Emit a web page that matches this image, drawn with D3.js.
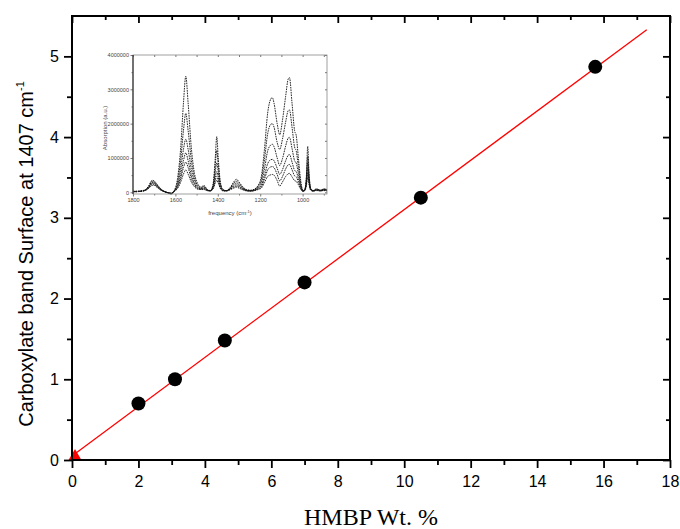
<!DOCTYPE html>
<html lang="en">
<head>
  <meta charset="UTF-8">
  <title>Carboxylate band vs HMBP</title>
  <script src="https://d3js.org/d3.v7.min.js"></script>
  <style>
    body { margin: 0; background: #fff; }
    .tick text { font-family: "Liberation Sans", Arial, sans-serif; }
  </style>
</head>
<body>
  <script>
    // main chart data
    const wtPct = [2.0, 3.1, 4.6, 7.0, 10.5, 15.75];
    const surface = [0.70, 1.00, 1.48, 2.20, 3.25, 4.87];
    const fitX = [0, 17.3];
    const fitY = [0.05, 5.33];
    const xTicks = [0, 2, 4, 6, 8, 10, 12, 14, 16, 18];
    const yTicks = [0, 1, 2, 3, 4, 5];

    // inset spectra (absorption in units of 10^6)
    const freq = [1800,1780,1760,1740,1725,1710,1700,1690,1680,1665,1650,1635,1620,1605,1590,1575,1562,1551,1540,1525,1510,1495,1480,1465,1450,1435,1422,1412,1405,1398,1388,1375,1360,1340,1325,1312,1300,1285,1265,1245,1225,1210,1195,1180,1165,1150,1143,1135,1120,1108,1095,1080,1068,1062,1050,1038,1030,1020,1008,998,990,982,976,970,962,950,935,915,900,885];
    const specA = [0.03,0.02,0.04,0.08,0.2,0.35,0.33,0.26,0.18,0.08,0.02,-0.02,-0.05,0.05,0.4,1.3,2.6,3.38,2.6,1.3,0.55,0.25,0.15,0.2,0.08,0.05,0.25,1.0,1.62,1.0,0.3,0.07,0.05,0.15,0.3,0.38,0.3,0.18,0.08,0.06,0.1,0.2,0.45,1.25,2.3,2.72,2.76,2.6,2.0,1.68,2.1,2.8,3.3,3.34,2.6,1.8,1.65,1.0,0.3,0.05,0.08,0.5,1.34,0.6,0.12,0.05,0.1,0.06,0.1,0.08];
    const specB = [0.03,0.03,0.04,0.08,0.18,0.32,0.3,0.24,0.16,0.07,0.02,-0.02,-0.04,0.05,0.3,0.95,1.8,2.3,1.8,0.95,0.42,0.2,0.13,0.17,0.07,0.05,0.2,0.8,1.22,0.8,0.25,0.07,0.05,0.13,0.26,0.32,0.26,0.15,0.07,0.05,0.09,0.17,0.36,0.95,1.7,1.98,2.0,1.9,1.45,1.25,1.55,2.05,2.38,2.4,1.9,1.32,1.2,0.75,0.22,0.04,0.07,0.42,1.05,0.5,0.1,0.05,0.09,0.06,0.09,0.07];
    const specC = [0.02,0.03,0.04,0.07,0.16,0.29,0.28,0.22,0.15,0.07,0.02,-0.01,-0.04,0.04,0.22,0.68,1.25,1.55,1.25,0.68,0.32,0.16,0.11,0.14,0.06,0.05,0.17,0.6,0.86,0.6,0.2,0.06,0.05,0.11,0.22,0.27,0.22,0.13,0.06,0.05,0.08,0.14,0.27,0.68,1.2,1.38,1.4,1.33,1.0,0.78,0.98,1.35,1.58,1.6,1.28,0.92,0.85,0.55,0.17,0.04,0.07,0.36,0.86,0.42,0.09,0.04,0.08,0.05,0.08,0.06];
    const specD = [0.02,0.02,0.03,0.07,0.15,0.27,0.26,0.2,0.14,0.06,0.02,-0.01,-0.03,0.04,0.17,0.5,0.92,1.15,0.92,0.5,0.25,0.13,0.1,0.12,0.06,0.04,0.14,0.44,0.6,0.44,0.16,0.05,0.04,0.1,0.18,0.22,0.18,0.11,0.05,0.04,0.07,0.12,0.2,0.48,0.83,0.95,0.96,0.92,0.7,0.52,0.66,0.92,1.08,1.1,0.88,0.64,0.6,0.4,0.13,0.03,0.06,0.3,0.7,0.35,0.08,0.04,0.07,0.05,0.07,0.06];
    const specE = [0.02,0.02,0.03,0.06,0.13,0.24,0.23,0.18,0.12,0.05,0.01,-0.01,-0.03,0.03,0.14,0.4,0.72,0.88,0.72,0.4,0.2,0.11,0.09,0.1,0.05,0.04,0.12,0.35,0.46,0.35,0.13,0.05,0.04,0.09,0.15,0.18,0.15,0.1,0.05,0.04,0.06,0.1,0.16,0.38,0.65,0.74,0.75,0.72,0.52,0.33,0.46,0.68,0.8,0.81,0.66,0.48,0.45,0.3,0.1,0.03,0.05,0.25,0.56,0.29,0.07,0.04,0.06,0.04,0.06,0.05];
    const specF = [0.01,0.02,0.03,0.06,0.12,0.2,0.2,0.16,0.11,0.05,0.01,-0.01,-0.02,0.03,0.11,0.3,0.53,0.65,0.53,0.3,0.16,0.09,0.08,0.08,0.05,0.04,0.1,0.27,0.35,0.27,0.11,0.04,0.04,0.08,0.12,0.15,0.12,0.08,0.04,0.03,0.05,0.08,0.12,0.28,0.46,0.51,0.52,0.5,0.34,0.18,0.3,0.46,0.54,0.55,0.45,0.34,0.32,0.22,0.08,0.02,0.05,0.2,0.45,0.24,0.06,0.03,0.05,0.04,0.05,0.04];
    const inXTicks = [1800, 1600, 1400, 1200, 1000];
    const inYTicks = [0, 1, 2, 3, 4];

    const width = 680;
    const height = 529;
    const margin = {top: 16, right: 10, bottom: 69, left: 72};
    const w = width - margin.left - margin.right;
    const h = height - margin.top - margin.bottom;

    const svg = d3.select("body").append("svg")
      .attr("width", width).attr("height", height);
    const g = svg.append("g")
      .attr("transform", `translate(${margin.left},${margin.top})`);

    const x = d3.scaleLinear().domain([0, 18]).range([0, w]);
    const y = d3.scaleLinear().domain([0, 5.5]).range([h, 0]);

    // fit line + origin marker
    g.append("line")
      .attr("x1", x(fitX[0])).attr("y1", y(fitY[0]))
      .attr("x2", x(fitX[1])).attr("y2", y(fitY[1]))
      .attr("stroke", "#ff0000").attr("stroke-width", 1.3);

    g.append("path")
      .attr("d", d3.symbol().type(d3.symbolTriangle).size(85)())
      .attr("transform", `translate(${x(0) + 3},${y(0) - 3})`)
      .attr("fill", "#ff0000");

    g.selectAll(".pt")
      .data(wtPct)
      .enter().append("circle")
      .attr("class", "pt")
      .attr("cx", d => x(d))
      .attr("cy", (d, i) => y(surface[i]))
      .attr("r", 7)
      .attr("fill", "#000");

    // axes
    g.append("g").attr("transform", `translate(0,${h})`)
      .call(d3.axisBottom(x).tickValues(xTicks).tickSize(8).tickPadding(8).tickFormat(d3.format("d")));
    g.append("g").attr("transform", `translate(0,${h})`)
      .call(d3.axisBottom(x).tickValues(d3.range(1, 18, 2)).tickSize(5).tickFormat(""));
    g.append("g")
      .call(d3.axisLeft(y).tickValues(yTicks).tickSize(8).tickPadding(5).tickFormat(d3.format("d")));
    g.append("g")
      .call(d3.axisLeft(y).tickValues([0.5, 1.5, 2.5, 3.5, 4.5]).tickSize(5).tickFormat(""));
    // top and right ticks point inward
    g.append("g")
      .call(d3.axisBottom(x).tickValues(xTicks).tickSize(7).tickFormat(""));
    g.append("g")
      .call(d3.axisBottom(x).tickValues(d3.range(1, 18, 2)).tickSize(4).tickFormat(""));
    g.append("g").attr("transform", `translate(${w},0)`)
      .call(d3.axisLeft(y).tickValues(yTicks).tickSize(7).tickFormat(""));
    g.append("g").attr("transform", `translate(${w},0)`)
      .call(d3.axisLeft(y).tickValues([0.5, 1.5, 2.5, 3.5, 4.5]).tickSize(4).tickFormat(""));

    g.selectAll(".domain").remove();
    g.selectAll(".tick line").attr("stroke", "#000").attr("stroke-width", 1.8);
    g.selectAll(".tick text").attr("font-size", 16).attr("fill", "#000");

    g.append("rect")
      .attr("width", w).attr("height", h)
      .attr("fill", "none").attr("stroke", "#000").attr("stroke-width", 2);

    // axis titles
    svg.append("text")
      .attr("x", margin.left + w / 2).attr("y", 525)
      .attr("text-anchor", "middle")
      .style("font-family", '"Liberation Serif", "Times New Roman", serif')
      .style("font-size", "24px")
      .text("HMBP Wt. %");

    const yt = svg.append("text")
      .attr("transform", `translate(33,${margin.top + 238}) rotate(-90)`)
      .attr("text-anchor", "middle")
      .style("font-family", '"Liberation Sans", Arial, sans-serif')
      .style("font-size", "20px");
    yt.append("tspan").text("Carboxylate band Surface at 1407 cm");
    yt.append("tspan").attr("dy", -9).style("font-size", "11px").text("-1");

    // ---- inset ----
    const ix = d3.scaleLinear().domain([1800, 885]).range([133, 327]);
    const iy = d3.scaleLinear().domain([-0.05, 4.0]).range([194, 55]);
    const ins = svg.append("g");

    const line = d3.line()
      .x(d => ix(d[0]))
      .y(d => iy(d[1]))
      .curve(d3.curveMonotoneX);

    [specF, specE, specD, specC, specB, specA].forEach(s => {
      ins.append("path")
        .attr("d", line(d3.zip(freq, s)))
        .attr("fill", "none")
        .attr("stroke", "#111")
        .attr("stroke-width", 0.9)
        .attr("stroke-dasharray", "1.6,0.9");
    });

    const ig = ins.append("g");
    ig.append("g").attr("transform", "translate(0,194)")
      .call(d3.axisBottom(ix).tickValues(inXTicks).tickSize(2.5).tickPadding(2).tickFormat(d3.format("d")));
    ig.append("g").attr("transform", "translate(0,194)")
      .call(d3.axisBottom(ix).tickValues([1700, 1500, 1300, 1100, 900]).tickSize(1.5).tickFormat(""));
    ig.append("g").attr("transform", "translate(133,0)")
      .call(d3.axisLeft(iy).tickValues(inYTicks).tickSize(2.5).tickPadding(1.5).tickFormat(d => d3.format("d")(d * 1000000)));
    ig.append("g").attr("transform", "translate(133,0)")
      .call(d3.axisLeft(iy).tickValues([0.5, 1.5, 2.5, 3.5]).tickSize(1.5).tickFormat(""));
    ig.append("g").attr("transform", "translate(0,55)")
      .call(d3.axisBottom(ix).tickValues(inXTicks.concat([1700, 1500, 1300, 1100, 900])).tickSize(2).tickFormat(""));
    ig.append("g").attr("transform", "translate(327,0)")
      .call(d3.axisLeft(iy).tickValues(inYTicks.concat([0.5, 1.5, 2.5, 3.5])).tickSize(2).tickFormat(""));
    ig.selectAll(".domain").remove();
    ig.selectAll(".tick line").attr("stroke", "#555").attr("stroke-width", 0.8);
    ig.selectAll(".tick text").attr("font-size", 5.5).attr("fill", "#444");

    ins.append("rect")
      .attr("x", 133).attr("y", 55).attr("width", 194).attr("height", 139)
      .attr("fill", "none").attr("stroke", "#888").attr("stroke-width", 0.8);
    ins.append("line")
      .attr("x1", 133).attr("x2", 133).attr("y1", 55).attr("y2", 194)
      .attr("stroke", "#333").attr("stroke-width", 1.2);

    const il = ins.append("text")
      .attr("x", 230).attr("y", 215)
      .attr("text-anchor", "middle")
      .style("font-family", '"Liberation Sans", Arial, sans-serif')
      .style("font-size", "6px").attr("fill", "#444");
    il.append("tspan").text("frequency (cm");
    il.append("tspan").attr("dy", -2.5).style("font-size", "4px").text("-1");
    il.append("tspan").attr("dy", 2.5).text(")");

    ins.append("text")
      .attr("transform", "translate(107,128) rotate(-90)")
      .attr("text-anchor", "middle")
      .style("font-family", '"Liberation Sans", Arial, sans-serif')
      .style("font-size", "6px").attr("fill", "#444")
      .text("Absorption (a.u.)");
  </script>
</body>
</html>
